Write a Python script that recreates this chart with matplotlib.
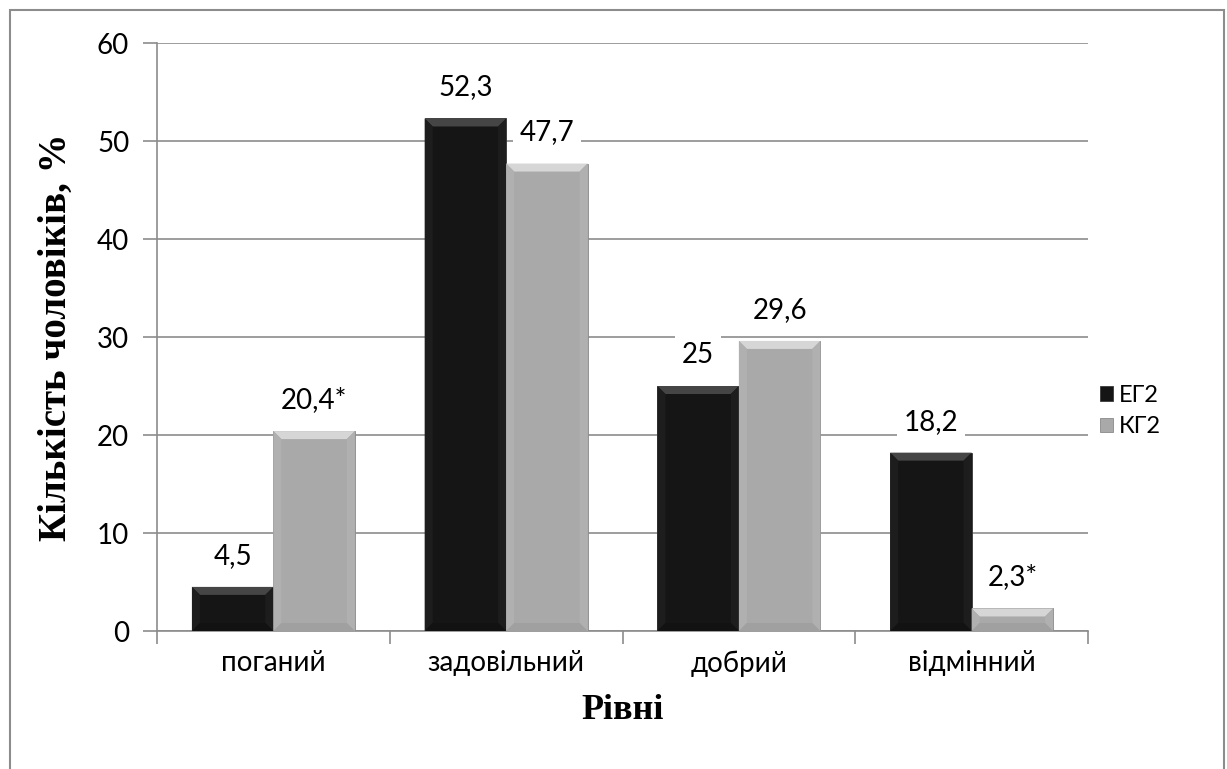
import matplotlib
matplotlib.use("Agg")
import matplotlib.pyplot as plt
from matplotlib.patches import Polygon, Rectangle
import numpy as np

categories = ["поганий", "задовільний", "добрий", "відмінний"]
eg2 = [4.5, 52.3, 25, 18.2]
kg2 = [20.4, 47.7, 29.6, 2.3]
eg2_labels = ["4,5", "52,3", "25", "18,2"]
kg2_labels = ["20,4*", "47,7", "29,6", "2,3*"]
series_names = ["ЕГ2", "КГ2"]
yticks = [0, 10, 20, 30, 40, 50, 60]

FONT = "Lato"
W, H = 1227, 769
fig = plt.figure(figsize=(W/100, H/100), dpi=100)
fig.patches.append(Rectangle((10/W, -0.01), (1224-10)/W, (H-10)/H + 0.01, transform=fig.transFigure,
                             fill=False, edgecolor="#8c8c8c", lw=1.5, zorder=0))
ax = fig.add_axes([157/W, 1-631/H, (1088-157)/W, (631-43)/H])

x = np.arange(len(categories))
bw = 0.35
cols = ["#151515", "#a9a9a9"]
bars1 = ax.bar(x - bw/2, eg2, bw, color=cols[0], zorder=3, edgecolor="#3a3a3a", lw=0.6)
bars2 = ax.bar(x + bw/2, kg2, bw, color=cols[1], zorder=3, edgecolor="#8a8a8a", lw=0.6)

ax.set_xlim(-0.5, len(categories)-0.5)
ax.set_ylim(0, 60)
ax.set_yticks(yticks)
ax.set_xticks(x)
ax.set_xticks(np.arange(len(categories)+1) - 0.5, minor=True)

def bevel(bars, top, side, bottom):
    px_x = 1.0 / 232.75
    px_y = 60.0 / 588.0
    for b in bars:
        x0, y0 = b.get_x(), b.get_y()
        w, h = b.get_width(), b.get_height()
        dx = 8 * px_x
        dy = min(8 * px_y, h/2.2)
        x1, y1 = x0 + w, y0 + h
        ax.add_patch(Polygon([(x0, y1), (x1, y1), (x1-dx, y1-dy), (x0+dx, y1-dy)], closed=True,
                             color=top, zorder=4, lw=0))
        ax.add_patch(Polygon([(x0, y0), (x0, y1), (x0+dx, y1-dy), (x0+dx, y0+dy)], closed=True,
                             color=side, zorder=4, lw=0))
        ax.add_patch(Polygon([(x1, y0), (x1, y1), (x1-dx, y1-dy), (x1-dx, y0+dy)], closed=True,
                             color=side, zorder=4, lw=0))
        ax.add_patch(Polygon([(x0, y0), (x1, y0), (x1-dx, y0+dy), (x0+dx, y0+dy)], closed=True,
                             color=bottom, zorder=4, lw=0))

bevel(bars1, "#454545", "#1d1d1d", "#121212")
bevel(bars2, "#d6d6d6", "#b0b0b0", "#a0a0a0")

ax.grid(axis="y", color="#8c8c8c", lw=1.2, zorder=0)
for s in ["top", "right"]:
    ax.spines[s].set_visible(False)
for s in ["left", "bottom"]:
    ax.spines[s].set_color("#8c8c8c")
    ax.spines[s].set_linewidth(1.2)
ax.tick_params(axis="y", length=10, color="#8c8c8c", width=1.2, labelsize=20, pad=10)
ax.tick_params(axis="x", which="major", length=0, labelsize=20, pad=14)
ax.tick_params(axis="x", which="minor", length=9, color="#8c8c8c", width=1.2)
for lab in ax.get_yticklabels():
    lab.set_fontfamily(FONT)
ax.set_xticklabels(categories, fontfamily=FONT)

for bars, labs in [(bars1, eg2_labels), (bars2, kg2_labels)]:
    for b, t in zip(bars, labs):
        ax.annotate(t, (b.get_x() + b.get_width()/2, b.get_height()), xytext=(0, 13),
                    textcoords="offset points", ha="center", va="bottom", fontsize=20,
                    fontfamily=FONT, zorder=5,
                    bbox=dict(boxstyle="square,pad=0.25", fc="white", ec="none"))

ax.set_ylabel("Кількість чоловіків, %", fontfamily="Liberation Serif", fontweight="bold",
              fontsize=28, labelpad=16)
ax.set_xlabel("Рівні", fontfamily="Liberation Serif", fontweight="bold", fontsize=26, labelpad=12)

leg = ax.legend([bars1, bars2], series_names, loc="center left", bbox_to_anchor=(0.99, 0.374),
                frameon=False, prop={"family": FONT, "size": 17},
                handlelength=0.55, handleheight=0.55, handletextpad=0.25, labelspacing=0.45)

fig.savefig("out.png", dpi=100)
